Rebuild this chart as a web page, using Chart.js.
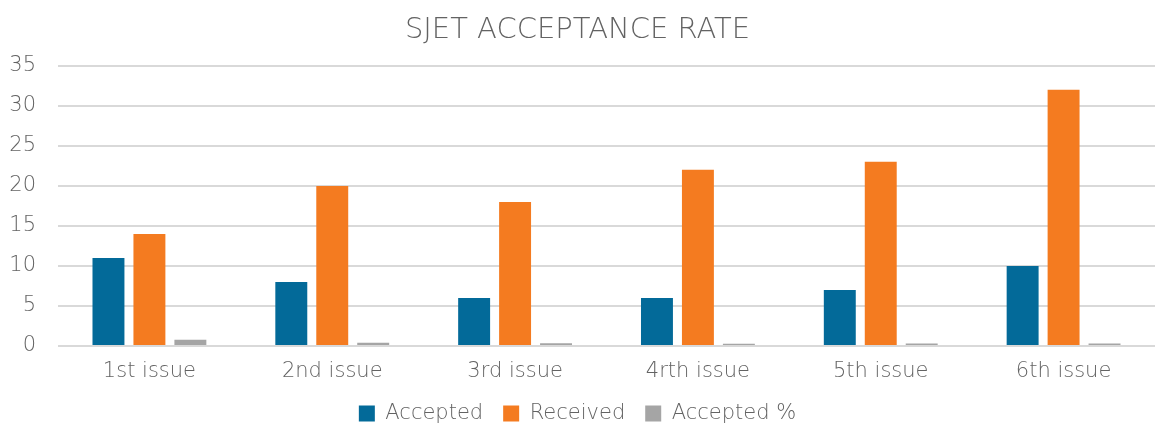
<!DOCTYPE html>
<html>
<head>
  <meta charset="utf-8">
  <title>SJET Acceptance Rate</title>
  <script src="https://cdn.jsdelivr.net/npm/chart.js"></script>
  <style>
    body { margin: 0; background: #fff; }
    #wrap { width: 1158px; height: 423px; }
  </style>
</head>
<body>
<div id="wrap"><canvas id="chart" width="1158" height="423"></canvas></div>
<script>
const issues = ['1st issue', '2nd issue', '3rd issue', '4rth issue', '5th issue', '6th issue'];
const accepted = [11, 8, 6, 6, 7, 10];
const received = [14, 20, 18, 22, 23, 32];
const acceptedPct = [0.79, 0.4, 0.33, 0.27, 0.3, 0.31];
const yTicks = [0, 5, 10, 15, 20, 25, 30, 35];

const grey = '#636363';
const font = '"DejaVu Sans", Lato, sans-serif';

const ds = (label, data, color) => ({
  label, data, backgroundColor: color,
  categoryPercentage: 0.672, barPercentage: 0.78
});

new Chart(document.getElementById('chart'), {
  type: 'bar',
  data: {
    labels: issues,
    datasets: [
      ds('Accepted', accepted, '#036a99'),
      ds('Received', received, '#f47b20'),
      ds('Accepted %', acceptedPct, '#a5a5a5')
    ]
  },
  options: {
    responsive: false,
    animation: false,
    layout: { padding: { top: 7, right: 3, bottom: -11, left: 0 } },
    plugins: {
      title: {
        display: true, text: 'SJET ACCEPTANCE RATE', color: grey,
        font: { family: font, size: 29, weight: '200' },
        padding: { top: 6, bottom: 18 }
      },
      legend: {
        position: 'bottom',
        labels: {
          color: grey, boxWidth: 16, boxHeight: 16, padding: 20,
          font: { family: font, size: 21, weight: '200' }
        }
      },
      tooltip: { enabled: false }
    },
    scales: {
      x: {
        grid: { display: false, drawTicks: false },
        border: { display: false },
        afterFit: s => { s.height = 37; },
        ticks: { color: grey, padding: 13, font: { family: font, size: 21, weight: '200' } }
      },
      y: {
        min: 0, max: 35,
        afterBuildTicks: s => { s.ticks = yTicks.map(v => ({ value: v })); },
        afterFit: s => { s.width = 58; },
        grid: { color: '#d9d9d9', lineWidth: 2, drawTicks: false },
        border: { display: false },
        ticks: { color: grey, padding: 22, font: { family: font, size: 21, weight: '200' } }
      }
    }
  }
});
</script>
</body>
</html>
